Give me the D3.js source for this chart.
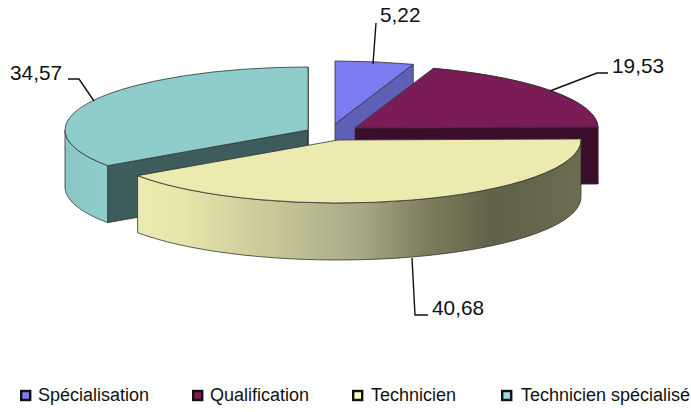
<!DOCTYPE html>
<html><head><meta charset="utf-8">
<script src="https://cdn.jsdelivr.net/npm/d3@7"></script>
<style>html,body{margin:0;padding:0;background:#fff}svg{display:block}text{font-family:"Liberation Sans",Arial,sans-serif;fill:#111}</style>
</head><body><svg id="c" width="691" height="412"></svg>
<script>
const categories = ["Spécialisation","Qualification","Technicien","Technicien spécialisé"];
const values = [5.22,19.53,40.68,34.57];
const valueLabels = ["5,22","19,53","40,68","34,57"];
const topColors = ["#7b7bf2","#7a1c56","#ebebb0","#8fcdcd"];
const legendColors = ["#7b7bf2","#7a1c56","#fbfbb8","#9adddd"];
const wallColors = ["#5f5fb6","#3a0e2a","#3f5c5c"];

// layout
const rx = 243, ry = 63, depth = 57;
const centres = [[335,124],[355,128],[338,140],[308,130]];
const legendX = [20,192,352,501], legendTextX = [38,210,371,521], legendY = 395.5;
const labelPos = [[380,22],[612,73],[432,315],[10,80]];
const leaders = [
  [[373,64],[376,23]],
  [[550,91],[597,73],[608,73]],
  [[412,258],[415,315],[428,315]],
  [[94,101],[79,79],[68,79]]
];

const svg = d3.select("#c");
const arcs = d3.pie().sort(null).value(d=>d)(values);
const radius = d3.scaleLinear().domain([0,1]).range([0,rx]);
const yScale = ry/rx;
const px = (c,a)=>c[0]+radius(1)*Math.sin(a), py = (c,a)=>c[1]-radius(1)*yScale*Math.cos(a);
const line = d3.line();
const arcGen = d3.arc().innerRadius(0).outerRadius(radius(1));

const defs = svg.append("defs");
function grad(id,x1,x2,stops){
  const g = defs.append("linearGradient").attr("id",id).attr("gradientUnits","userSpaceOnUse")
    .attr("x1",x1).attr("x2",x2).attr("y1",0).attr("y2",0);
  stops.forEach(s=>g.append("stop").attr("offset",s[0]).attr("stop-color",s[1]));
}
grad("gT",138,581,[[0,"#ebebb0"],[0.1,"#e6e6ab"],[0.3,"#c8c898"],[0.5,"#a9a986"],[0.65,"#7e7e5e"],[0.8,"#616148"],[1,"#6c6c4f"]]);
grad("gS",65,107,[[0,"#8ac6c6"],[1,"#8fcdcd"]]);

const outline = "#333";
function wallPoly(pts,fill){
  svg.append("path").attr("d",line(pts)+"Z").attr("fill",fill).attr("stroke",outline).attr("stroke-width",0.8);
}
function outerWall(c,a0,a1,fill){
  const as = d3.range(0,41).map(i=>a0+(a1-a0)*i/40);
  const top = as.map(a=>[px(c,a),py(c,a)]);
  const bot = as.slice().reverse().map(a=>[px(c,a),py(c,a)+depth]);
  wallPoly(top.concat(bot),fill);
}
function topFace(i){
  svg.append("path").attr("d",arcGen(arcs[i]))
    .attr("transform",`translate(${centres[i][0]},${centres[i][1]}) scale(1,${yScale})`)
    .attr("fill",topColors[i]).attr("stroke",outline).attr("stroke-width",0.8)
    .attr("vector-effect","non-scaling-stroke");
}
function cutWall(c,a,fill){
  const p=[px(c,a),py(c,a)];
  wallPoly([c,p,[p[0],p[1]+depth],[c[0],c[1]+depth]],fill);
}

// Technicien spécialisé
{const i=3,c=centres[i];
 cutWall(c,arcs[i].startAngle,wallColors[2]);
 outerWall(c,arcs[i].startAngle,1.5*Math.PI,"url(#gS)");
 wallPoly([c,[c[0],c[1]-ry],[c[0],c[1]+depth]],wallColors[2]);
 topFace(i);}
// Spécialisation
{const i=0,c=centres[i];
 cutWall(c,arcs[i].endAngle,wallColors[0]);
 topFace(i);}
// Qualification
{const i=1,c=centres[i];
 outerWall(c,arcs[i].startAngle,arcs[i].endAngle,wallColors[1]);
 cutWall(c,arcs[i].endAngle,wallColors[1]);
 topFace(i);}
// Technicien
{const i=2,c=centres[i];
 outerWall(c,arcs[i].startAngle,arcs[i].endAngle,"url(#gT)");
 topFace(i);}

leaders.forEach(l=>svg.append("path").attr("d",line(l)).attr("fill","none").attr("stroke","#111").attr("stroke-width",1.4));
svg.selectAll("text.v").data(valueLabels).join("text").attr("class","v")
  .attr("x",(d,i)=>labelPos[i][0]).attr("y",(d,i)=>labelPos[i][1]).attr("font-size",20.8).text(d=>d);

const lg = svg.selectAll("g.l").data(categories).join("g").attr("class","l");
lg.append("rect").attr("x",(d,i)=>legendX[i]+1.2).attr("y",legendY-4.5).attr("width",9).attr("height",9).attr("fill",(d,i)=>legendColors[i]).attr("stroke","#111").attr("stroke-width",2.4);
lg.append("text").attr("x",(d,i)=>legendTextX[i]).attr("y",legendY+5.5).attr("font-size",18).text(d=>d);
</script></body></html>
